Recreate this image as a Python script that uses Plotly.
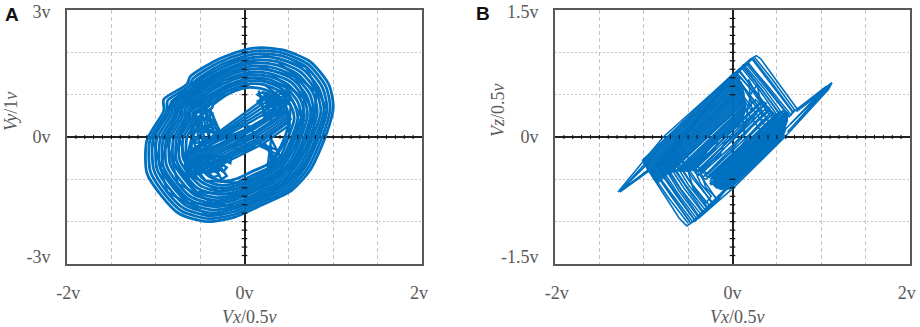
import plotly.graph_objects as go

# ---------- Panel A: Vx (x) against Vy (y) ----------
a_ring_01 = [(0.18,2.11),(0.44,2.05),(0.74,1.78),(0.95,1.24),(1.00,0.70),(0.91,0.00),(0.74,-0.78),(0.52,-1.28),(0.25,-1.55),(-0.12,-1.90),(-0.42,-2.00),(-0.73,-1.82),(-0.93,-1.40),(-1.10,-0.85),(-1.10,-0.08),(-0.91,0.62),(-0.91,0.89),(-0.65,1.24),(-0.61,1.43),(-0.31,1.82),(-0.01,2.05),(0.18,2.11)]
a_ring_02 = [(0.175,2.04),(0.425,1.985),(0.715,1.72),(0.915,1.20),(0.965,0.675),(0.875,0.00),(0.71,-0.75),(0.50,-1.235),(0.24,-1.495),(-0.115,-1.83),(-0.405,-1.93),(-0.705,-1.755),(-0.90,-1.35),(-1.06,-0.82),(-1.065,-0.075),(-0.88,0.60),(-0.865,0.865),(-0.625,1.195),(-0.58,1.38),(-0.295,1.755),(-0.01,1.975),(0.175,2.04)]
a_ring_03 = [(0.17,1.97),(0.41,1.92),(0.69,1.66),(0.88,1.16),(0.93,0.65),(0.84,0.00),(0.68,-0.72),(0.48,-1.19),(0.23,-1.44),(-0.11,-1.76),(-0.39,-1.86),(-0.68,-1.69),(-0.87,-1.30),(-1.02,-0.79),(-1.03,-0.07),(-0.85,0.58),(-0.82,0.84),(-0.60,1.15),(-0.55,1.33),(-0.28,1.69),(-0.01,1.90),(0.17,1.97)]
a_ring_04 = [(0.16,1.895),(0.39,1.85),(0.66,1.60),(0.845,1.115),(0.895,0.625),(0.805,0.00),(0.655,-0.69),(0.46,-1.145),(0.22,-1.385),(-0.11,-1.695),(-0.375,-1.79),(-0.655,-1.625),(-0.835,-1.25),(-0.985,-0.76),(-0.99,-0.065),(-0.82,0.56),(-0.80,0.805),(-0.58,1.11),(-0.535,1.28),(-0.27,1.625),(-0.01,1.83),(0.16,1.895)]
a_ring_05 = [(0.15,1.82),(0.37,1.78),(0.63,1.54),(0.81,1.07),(0.86,0.60),(0.77,0.00),(0.63,-0.66),(0.44,-1.10),(0.21,-1.33),(-0.11,-1.63),(-0.36,-1.72),(-0.63,-1.56),(-0.80,-1.20),(-0.95,-0.73),(-0.95,-0.06),(-0.79,0.54),(-0.78,0.77),(-0.56,1.07),(-0.52,1.23),(-0.26,1.56),(-0.01,1.76),(0.15,1.82)]
a_ring_06 = [(0.14,1.75),(0.355,1.705),(0.60,1.48),(0.775,1.03),(0.82,0.58),(0.74,0.005),(0.60,-0.635),(0.42,-1.05),(0.20,-1.27),(-0.11,-1.56),(-0.35,-1.645),(-0.61,-1.495),(-0.775,-1.15),(-0.915,-0.695),(-0.915,-0.055),(-0.76,0.52),(-0.755,0.74),(-0.54,1.03),(-0.505,1.185),(-0.26,1.505),(-0.015,1.695),(0.14,1.75)]
a_ring_07 = [(0.13,1.68),(0.34,1.63),(0.57,1.42),(0.74,0.99),(0.78,0.56),(0.71,0.01),(0.57,-0.61),(0.40,-1.00),(0.19,-1.21),(-0.11,-1.49),(-0.34,-1.57),(-0.59,-1.43),(-0.75,-1.10),(-0.88,-0.66),(-0.88,-0.05),(-0.73,0.50),(-0.73,0.71),(-0.52,0.99),(-0.49,1.14),(-0.26,1.45),(-0.02,1.63),(0.13,1.68)]
a_ring_08 = [(0.12,1.61),(0.32,1.56),(0.545,1.36),(0.705,0.95),(0.745,0.54),(0.675,0.01),(0.545,-0.58),(0.38,-0.955),(0.18,-1.155),(-0.105,-1.425),(-0.325,-1.50),(-0.565,-1.365),(-0.715,-1.045),(-0.84,-0.63),(-0.84,-0.045),(-0.70,0.48),(-0.70,0.685),(-0.50,0.95),(-0.47,1.095),(-0.25,1.39),(-0.02,1.565),(0.12,1.61)]
a_ring_09 = [(0.11,1.54),(0.30,1.49),(0.52,1.30),(0.67,0.91),(0.71,0.52),(0.64,0.01),(0.52,-0.55),(0.36,-0.91),(0.17,-1.10),(-0.10,-1.36),(-0.31,-1.43),(-0.54,-1.30),(-0.68,-0.99),(-0.80,-0.60),(-0.80,-0.04),(-0.67,0.46),(-0.67,0.66),(-0.48,0.91),(-0.45,1.05),(-0.24,1.33),(-0.02,1.50),(0.11,1.54)]
a_ring_10 = [(0.105,1.47),(0.285,1.425),(0.49,1.24),(0.635,0.87),(0.675,0.495),(0.61,0.015),(0.49,-0.52),(0.34,-0.865),(0.16,-1.045),(-0.095,-1.29),(-0.30,-1.355),(-0.515,-1.23),(-0.65,-0.94),(-0.765,-0.57),(-0.765,-0.035),(-0.64,0.44),(-0.64,0.63),(-0.46,0.87),(-0.43,1.00),(-0.23,1.265),(-0.02,1.425),(0.105,1.47)]
a_ring_11 = [(0.10,1.40),(0.27,1.36),(0.46,1.18),(0.60,0.83),(0.64,0.47),(0.58,0.02),(0.46,-0.49),(0.32,-0.82),(0.15,-0.99),(-0.09,-1.22),(-0.29,-1.28),(-0.49,-1.16),(-0.62,-0.89),(-0.73,-0.54),(-0.73,-0.03),(-0.61,0.42),(-0.61,0.60),(-0.44,0.83),(-0.41,0.95),(-0.22,1.20),(-0.02,1.35),(0.10,1.40)]
a_ring_12 = [(0.09,1.33),(0.25,1.295),(0.43,1.125),(0.56,0.785),(0.60,0.45),(0.54,0.025),(0.435,-0.465),(0.30,-0.775),(0.135,-0.935),(-0.09,-1.15),(-0.275,-1.21),(-0.465,-1.095),(-0.585,-0.84),(-0.69,-0.505),(-0.69,-0.025),(-0.58,0.40),(-0.58,0.57),(-0.42,0.785),(-0.395,0.90),(-0.21,1.14),(-0.025,1.28),(0.09,1.33)]
a_ring_13 = [(0.08,1.26),(0.23,1.23),(0.40,1.07),(0.52,0.74),(0.56,0.43),(0.50,0.03),(0.41,-0.44),(0.28,-0.73),(0.12,-0.88),(-0.09,-1.08),(-0.26,-1.14),(-0.44,-1.03),(-0.55,-0.79),(-0.65,-0.47),(-0.65,-0.02),(-0.55,0.38),(-0.55,0.54),(-0.40,0.74),(-0.38,0.85),(-0.20,1.08),(-0.03,1.21),(0.08,1.26)]
a_ring_14 = [(0.07,1.17),(0.21,1.13),(0.36,0.98),(0.47,0.69),(0.50,0.40),(0.46,0.03),(0.36,-0.40),(0.25,-0.66),(0.10,-0.80),(-0.08,-0.98),(-0.24,-1.04),(-0.40,-0.93),(-0.50,-0.71),(-0.59,-0.42),(-0.59,-0.02),(-0.50,0.35),(-0.50,0.49),(-0.37,0.68),(-0.35,0.77),(-0.18,1.02),(-0.03,1.14),(0.07,1.17)]
a_band = [(-0.62,-0.35),(-0.29,0.12),(0.14,0.78),(0.40,1.10),(0.46,1.00),(0.18,0.66),(-0.26,0.06),(-0.65,-0.42),(-0.66,-0.50),(-0.24,0.00),(0.24,0.56),(0.52,0.92),(0.50,0.82),(0.28,0.48),(0.10,0.26),(-0.30,-0.10),(-0.64,-0.45),(-0.66,-0.55),(-0.30,-0.22),(0.10,0.22),(0.46,0.72),(0.48,0.62),(0.14,0.14),(-0.30,-0.34),(-0.67,-0.65),(-0.66,-0.75),(-0.30,-0.46),(0.16,0.05),(0.50,0.52),(0.52,0.42),(0.19,-0.05),(-0.31,-0.58),(-0.65,-0.85),(-0.62,-0.95),(-0.31,-0.70),(0.21,-0.16),(0.52,0.30)]
a_band_2 = [(0.50,0.36),(0.20,-0.10),(-0.31,-0.64),(-0.64,-0.90),(-0.66,-0.80),(-0.30,-0.52),(0.18,0.00),(0.51,0.47),(0.49,0.57),(0.15,0.10),(-0.30,-0.40),(-0.67,-0.70),(-0.66,-0.60),(-0.30,-0.28),(0.12,0.20),(0.47,0.67),(0.47,0.77),(0.26,0.52),(0.20,0.40),(-0.28,-0.16),(-0.65,-0.48),(-0.66,-0.40),(-0.25,0.03),(0.21,0.61),(0.49,0.96),(0.43,1.05),(0.16,0.72),(-0.27,0.09),(-0.60,-0.30)]
a_hole_left = [(-0.39,0.66),(-0.27,0.10),(-0.33,0.05),(-0.45,0.70),(-0.50,0.70),(-0.40,0.00),(-0.47,-0.10),(-0.55,0.50),(-0.42,0.40),(-0.33,0.30),(-0.50,0.20),(-0.36,0.15)]
a_fill_left = [(-0.62,0.50),(-0.55,-0.30),(-0.50,-0.30),(-0.56,0.55),(-0.50,0.62),(-0.44,-0.25),(-0.38,-0.20),(-0.44,0.62),(-0.40,0.62),(-0.33,-0.10),(-0.30,0.00),(-0.36,0.55),(-0.58,0.30),(-0.30,0.20),(-0.30,0.10),(-0.60,0.15),(-0.60,0.00),(-0.30,-0.05),(-0.58,-0.15),(-0.35,0.40),(-0.60,0.45)]
a_fill_lower_left = [(-0.62,-0.50),(-0.35,-0.95),(-0.28,-0.90),(-0.55,-0.45),(-0.48,-0.42),(-0.24,-0.82),(-0.20,-0.72),(-0.42,-0.42),(-0.36,-0.42),(-0.16,-0.62),(-0.15,-0.50),(-0.30,-0.45),(-0.60,-0.70),(-0.25,-0.68),(-0.22,-0.60),(-0.58,-0.60),(-0.55,-0.85),(-0.30,-0.80)]
a_fill_right = [(0.10,-0.10),(0.36,-0.30),(0.38,-0.42),(0.16,-0.20),(0.24,-0.24),(0.36,-0.55),(0.30,-0.60),(0.30,-0.20)]
a_fill_upper_right = [(0.16,1.10),(0.24,0.40),(0.30,0.42),(0.22,1.05),(0.28,1.02),(0.36,0.50),(0.42,0.55),(0.34,0.98),(0.20,0.50),(0.46,0.62)]
a_hole_right = [(0.22,-0.12),(0.34,-0.50),(0.26,-0.72),(0.30,-0.05),(0.40,-0.45),(0.30,-0.70)]
a_hole_bottom = [(-0.30,-0.62),(-0.20,-0.92),(-0.26,-1.00),(-0.36,-0.60),(-0.28,-0.80),(-0.40,-0.80)]
a_hole_top = [(0.16,0.98),(0.24,0.92),(0.34,0.95),(0.20,1.05),(0.14,1.00),(0.30,0.86)]
a_upper_right = [(0.14,1.02),(0.36,0.75),(0.44,0.70),(0.22,1.00),(0.30,0.95),(0.45,0.80),(0.24,0.80),(0.40,0.62),(0.30,0.60),(0.45,0.90),(0.38,0.85),(0.20,0.88)]
a_centre = [(-0.18,0.08),(-0.08,0.28),(0.05,0.25),(0.12,0.05),(0.00,-0.10),(-0.12,-0.05),(-0.18,0.08),(-0.10,0.04),(0.02,-0.18),(0.12,-0.22),(-0.02,-0.34),(-0.14,-0.24),(-0.02,-0.16)]
a_bits_upper = [(0.14,0.84),(0.22,0.70),(0.32,0.78),(0.24,0.92),(0.14,0.84),(0.20,0.76)]
a_bits_lower = [(-0.42,-0.62),(-0.30,-0.70),(-0.38,-0.84),(-0.52,-0.74),(-0.42,-0.62),(-0.36,-0.72)]

a_rings = [a_ring_01,a_ring_02,a_ring_03,a_ring_04,a_ring_05,a_ring_06,a_ring_07,a_ring_08,a_ring_09,a_ring_10,a_ring_11,a_ring_12,a_ring_13,a_ring_14]
a_details = [a_ring_03[::2],a_ring_05[1::2],a_ring_07[::2],a_ring_09[1::2],a_ring_11[::2],a_ring_13[1::2],
             a_band,a_band_2,a_hole_left,a_fill_left,a_fill_lower_left,a_fill_right,a_fill_upper_right,a_hole_right,a_hole_bottom,a_hole_top,a_upper_right,a_centre,a_bits_upper,a_bits_lower]

# ---------- Panel B: Vx (x) against Vz (y) ----------
b_outer_loops = [
 (-1.29,-0.65),(-0.78,0.00),(0.00,0.73),(0.20,0.92),(0.27,0.96),(0.32,0.92),(0.73,0.33),(1.10,0.62),(1.12,0.64),(1.08,0.56),(0.59,0.00),(0.00,-0.61),(-0.36,-0.94),(-0.515,-1.05),(-0.60,-0.96),(-0.95,-0.39),(-1.27,-0.65),
 (-0.90,-0.37),(0.00,0.70),(0.22,0.92),(0.68,0.29),(1.06,0.60),(0.65,0.15),(-0.47,-1.02),(-0.90,-0.37),
 (-0.85,-0.34),(0.17,0.89),(0.63,0.26),(0.50,0.02),(-0.42,-0.99),(-0.85,-0.34),
 (-0.80,-0.29),(0.12,0.85),(0.60,0.18),(0.42,-0.08),(-0.37,-0.95),(-0.80,-0.29),
 (-0.75,-0.24),(0.07,0.80),(0.55,0.12),(0.35,-0.14),(-0.32,-0.90),(-0.75,-0.24),
 (-0.70,-0.19),(0.02,0.75),(0.50,0.05),(0.30,-0.20),(-0.27,-0.85),(-0.70,-0.19),
 (-0.65,-0.14),(-0.03,0.70),(0.42,0.06),(0.22,-0.26),(-0.22,-0.80),(-0.65,-0.14),
 (-0.60,-0.09),(-0.08,0.64),(0.37,0.00),(0.15,-0.32),(-0.17,-0.75),(-0.60,-0.09),
]
b_left_band = [
 (-1.02,-0.28),(0.00,0.74),(0.03,0.73),(-1.00,-0.30),(-0.99,-0.33),(0.05,0.71),(0.08,0.70),(-0.97,-0.35),(-0.96,-0.38),(0.08,0.66),(0.10,0.64),(-0.94,-0.40),
 (-0.92,-0.42),(0.10,0.60),(0.12,0.58),(-0.91,-0.45),(-0.89,-0.47),(0.12,0.54),(0.13,0.51),(-0.88,-0.50),(-0.86,-0.52),(0.13,0.47),(0.14,0.44),(-0.84,-0.54),
 (-0.70,-0.40),(0.14,0.40),(0.15,0.37),(-0.62,-0.40),(-0.58,-0.40),(0.15,0.33),(0.12,0.26),(-0.54,-0.40),(-0.50,-0.40),(-0.30,-0.20),(-0.26,-0.10),(0.10,0.20),
]
b_left_band_2 = [
 (-1.01,-0.29),(0.02,0.74),(0.04,0.72),(-0.99,-0.31),(-0.98,-0.34),(0.06,0.70),(0.08,0.68),(-0.96,-0.36),(-0.95,-0.39),(0.09,0.65),(0.10,0.62),(-0.93,-0.41),(-0.91,-0.43),(0.11,0.59),(0.12,0.56),(-0.90,-0.46),(-0.88,-0.48),(0.12,0.52),(0.13,0.49),(-0.87,-0.51),(-0.85,-0.53),(0.13,0.45),(0.14,0.42),(-0.70,-0.42),(-0.64,-0.40),(0.14,0.38),(0.15,0.35),(-0.60,-0.40),(-0.56,-0.40),(0.14,0.30),(0.12,0.24),(-0.52,-0.40),(-0.48,-0.40),(0.10,0.18),(0.14,0.18),(-0.44,-0.40),(-0.40,-0.40),(0.20,0.20),
]
b_middle = [
 (-0.46,-0.40),(-0.20,-0.15),(-0.16,-0.02),(0.12,0.16),(0.30,0.34),(0.20,0.16),(-0.10,-0.08),(-0.14,-0.22),(-0.42,-0.42),(-0.38,-0.45),(-0.06,-0.10),(0.04,0.02),(0.36,0.32),
 (0.40,0.30),(0.10,0.00),(-0.02,-0.18),(-0.34,-0.48),(-0.30,-0.50),(0.02,-0.20),(0.16,-0.02),(0.46,0.28),(0.05,0.75),(0.10,0.40),(0.13,0.05),(0.20,0.50),(0.28,0.62),(0.33,0.30),
 (0.24,0.20),(-0.36,-0.40),(-0.30,-0.44),(0.10,-0.02),(0.30,0.22),(0.34,0.20),(0.14,-0.06),(-0.27,-0.46),
]
b_middle_2 = [
 (-0.42,-0.36),(-0.10,-0.02),(0.06,0.14),(0.34,0.42),(0.38,0.40),(0.14,0.14),(-0.06,-0.06),(-0.38,-0.40),(-0.34,-0.42),(-0.02,-0.12),(0.18,0.10),(0.40,0.32),(0.44,0.30),(0.22,0.06),(0.02,-0.14),(-0.30,-0.46),(-0.26,-0.48),(0.06,-0.16),(0.26,0.04),(0.48,0.26),(0.50,0.22),(0.30,0.00),(0.10,-0.18),(-0.22,-0.50),
 (-0.20,-0.46),(0.12,-0.14),(0.32,0.06),(0.50,0.24),(0.46,0.28),(0.24,0.08),(0.04,-0.12),(-0.28,-0.44),(-0.32,-0.40),(0.00,-0.10),(0.20,0.12),(0.42,0.34),(0.36,0.38),(0.16,0.18),(-0.04,-0.04),(-0.36,-0.38),(-0.40,-0.34),(-0.08,0.00),(0.08,0.18),(0.30,0.40),(0.26,0.44),(0.04,0.20),(-0.12,0.02),(-0.44,-0.32),
]
b_top_inner = [(0.02,0.74),(0.12,0.45),(0.22,0.30),(0.18,0.68),(0.30,0.45),(0.40,0.30),(0.34,0.25),(0.22,0.42),(0.10,0.62)]
b_bottom_inner = [(-0.50,-0.40),(-0.44,-0.62),(-0.30,-0.78),(-0.24,-0.70),(-0.36,-0.55),(-0.42,-0.40),(-0.36,-0.40),(-0.30,-0.60),(-0.18,-0.72)]
b_right_band = [
 (-0.25,-0.50),(0.55,0.30),(0.60,0.30),(-0.25,-0.55),(-0.22,-0.56),(0.62,0.28),(0.63,0.25),(-0.20,-0.58),(-0.18,-0.60),(0.62,0.20),(0.60,0.14),(-0.15,-0.61),(-0.12,-0.62),(0.60,0.10),(0.58,0.04),(-0.08,-0.62),(-0.03,-0.61),(0.59,0.01),
 (0.58,0.02),(-0.06,-0.62),(-0.10,-0.62),(0.59,0.07),(0.60,0.12),(-0.13,-0.61),(-0.16,-0.60),(0.61,0.17),(0.62,0.22),(-0.19,-0.59),(-0.21,-0.57),(0.63,0.27),(0.61,0.29),(-0.24,-0.56),(-0.25,-0.52),(0.58,0.31),(0.52,0.29),(-0.24,-0.47),
]
b_fan_top = [(0.25,0.94),(0.45,0.68),(0.70,0.32),(0.66,0.26),(0.40,0.60),(0.18,0.86),(0.14,0.84),(0.35,0.58),(0.60,0.22),(0.54,0.20),(0.30,0.56),(0.10,0.82),(0.04,0.76),(0.22,0.55),(0.46,0.20)]
b_fan_top_2 = [(0.23,0.93),(0.43,0.66),(0.68,0.30),(0.64,0.24),(0.38,0.58),(0.16,0.86),(0.12,0.82),(0.33,0.56),(0.57,0.21),(0.50,0.19),(0.27,0.53),(0.07,0.78),(0.00,0.74),(0.18,0.52),(0.40,0.20)]
b_fan_bottom = [(-0.25,-0.82),(-0.47,-0.54),(-0.67,-0.20),(-0.72,-0.26),(-0.52,-0.58),(-0.30,-0.87),(-0.35,-0.92),(-0.58,-0.62),(-0.77,-0.30),(-0.82,-0.34),(-0.62,-0.66),(-0.40,-0.97),(-0.45,-1.00),(-0.66,-0.70),(-0.88,-0.40),(-0.93,-0.40),(-0.72,-0.72),(-0.50,-1.02)]
b_fan_bottom_2 = [(-0.22,-0.78),(-0.44,-0.50),(-0.65,-0.17),(-0.70,-0.22),(-0.50,-0.56),(-0.28,-0.85),(-0.33,-0.90),(-0.55,-0.60),(-0.75,-0.28),(-0.79,-0.32),(-0.60,-0.64),(-0.38,-0.95),(-0.43,-0.98),(-0.64,-0.68),(-0.85,-0.36),(-0.90,-0.38),(-0.69,-0.70),(-0.48,-1.00)]
b_tail_up = [(0.65,0.15),(1.12,0.64),(0.72,0.30),(1.10,0.60),(0.62,0.06),(1.08,0.60)]
b_tail_down = [(-0.95,-0.39),(-1.27,-0.64),(-0.85,-0.16),(-1.25,-0.62),(-0.92,-0.28)]

b_segments = [b_outer_loops,b_left_band,b_left_band_2,b_middle,b_middle_2,b_top_inner,b_bottom_inner,b_right_band,b_fan_top,b_fan_top_2,b_fan_bottom,b_fan_bottom_2,b_tail_up,b_tail_down]

# ---------- Axes and labels ----------
a_x_label_pos = [-1.985, 0, 1.966]
b_x_label_pos = [-1.98, 0, 1.963]
x_tick_text = ["-2v", "0v", "2v"]
x_grid = [-1.5, -1, -0.5, 0.5, 1, 1.5]
a_y_label_pos = [-2.83, 0, 2.95]
a_y_tick_text = ["-3v", "0v", "3v"]
b_y_label_pos = [-1.415, 0, 1.475]
b_y_tick_text = ["-1.5v", "0v", "1.5v"]
x_minor = [-1.9,-1.8,-1.7,-1.6,-1.5,-1.4,-1.3,-1.2,-1.1,-1.0,-0.9,-0.8,-0.7,-0.6,-0.5,-0.4,-0.3,-0.2,-0.1,0.1,0.2,0.3,0.4,0.5,0.6,0.7,0.8,0.9,1.0,1.1,1.2,1.3,1.4,1.5,1.6,1.7,1.8,1.9]
a_y_minor = [-2.8,-2.6,-2.4,-2.2,-2.0,-1.8,-1.6,-1.4,-1.2,-1.0,1.0,1.2,1.4,1.6,1.8,2.0,2.2,2.4,2.6,2.8]
b_y_minor = [-1.4,-1.3,-1.2,-1.1,-1.0,-0.9,-0.8,-0.7,-0.6,-0.5,0.5,0.6,0.7,0.8,0.9,1.0,1.1,1.2,1.3,1.4]

BLUE = "#0070C0"
FRAME = "#595959"
TEXT = "#595959"
GRID = "#c4c4c4"
W, H = 920, 327

def flat(segments):
    xs, ys = [], []
    for seg in segments:
        for p in seg:
            xs.append(p[0]); ys.append(p[1])
        xs.append(None); ys.append(None)
    return xs, ys

fig = go.Figure()
rx, ry = flat(a_rings)
dx, dy = flat(a_details)
bx, by = flat(b_segments)
fig.add_trace(go.Scatter(x=rx, y=ry, mode="lines", xaxis="x", yaxis="y", line=dict(color=BLUE, width=2.8, shape="spline", smoothing=0.7), showlegend=False, hoverinfo="skip"))
fig.add_trace(go.Scatter(x=dx, y=dy, mode="lines", xaxis="x", yaxis="y", line=dict(color=BLUE, width=2.4), showlegend=False, hoverinfo="skip"))
fig.add_trace(go.Scatter(x=bx, y=by, mode="lines", xaxis="x2", yaxis="y2", line=dict(color=BLUE, width=1.6), showlegend=False, hoverinfo="skip"))

for xa, ya, ym in (("x", "y", a_y_minor), ("x2", "y2", b_y_minor)):
    fig.add_trace(go.Scatter(x=x_minor, y=[0]*len(x_minor), mode="markers", xaxis=xa, yaxis=ya, showlegend=False, hoverinfo="skip",
                             marker=dict(symbol="line-ns", size=3, line=dict(color="#111111", width=1))))
    fig.add_trace(go.Scatter(x=[0]*len(ym), y=ym, mode="markers", xaxis=xa, yaxis=ya, showlegend=False, hoverinfo="skip",
                             marker=dict(symbol="line-ew", size=4, line=dict(color="#111111", width=1.2))))

def xaxis(dom, vals, anchor):
    return dict(domain=dom, anchor=anchor, automargin=False, range=[-2, 2], tickmode="array", tickvals=vals, ticktext=x_tick_text,
                ticks="outside", ticklen=11, tickcolor="rgba(0,0,0,0)", showline=True, mirror=True, linecolor=FRAME, linewidth=2,
                showgrid=False,
                minor=dict(tickmode="array", tickvals=x_grid, showgrid=True, gridcolor=GRID, griddash="4px,3px", gridwidth=1, ticks=""),
                zeroline=True, zerolinecolor="#222222", zerolinewidth=1.5,
                tickfont=dict(family="Liberation Serif", size=18, color=TEXT))

def yaxis(rng, vals, text, grid, anchor):
    return dict(domain=[1-264/H, 1-10/H], anchor=anchor, automargin=False, range=rng, tickmode="array", tickvals=vals, ticktext=text,
                ticks="outside", ticklen=11, tickcolor="rgba(0,0,0,0)", showline=True, mirror=True, linecolor=FRAME, linewidth=2,
                showgrid=False,
                minor=dict(tickmode="array", tickvals=grid, showgrid=True, gridcolor=GRID, griddash="2px,2px", gridwidth=1, ticks=""),
                zeroline=True, zerolinecolor="#222222", zerolinewidth=1.5,
                tickfont=dict(family="Liberation Serif", size=18, color=TEXT))

def note(text, x, y, size=18, angle=0, family="Liberation Serif", color=TEXT):
    return dict(text=text, x=x/W, y=1-y/H, xref="paper", yref="paper", showarrow=False, textangle=angle,
                xanchor="center", yanchor="middle", font=dict(family=family, size=size, color=color))

fig.update_layout(
    width=W, height=H, margin=dict(l=0, r=0, t=0, b=0), paper_bgcolor="white", plot_bgcolor="white", showlegend=False,
    xaxis=xaxis([67/W, 422/W], a_x_label_pos, "y"),
    yaxis=yaxis([-3, 3], a_y_label_pos, a_y_tick_text, [-2, -1, 1, 2], "x"),
    xaxis2=xaxis([555/W, 910/W], b_x_label_pos, "y2"),
    yaxis2=yaxis([-1.5, 1.5], b_y_label_pos, b_y_tick_text, [-1, -0.5, 0.5, 1], "x2"),
    annotations=[
        note("<i>Vx</i>/0.5<i>v</i>", 249, 317),
        note("<i>Vx</i>/0.5<i>v</i>", 737, 317),
        note("<i>Vy</i>/1<i>v</i>", 11, 112, angle=-90),
        note("<i>Vz</i>/0.5<i>v</i>", 498, 110, angle=-90),
        note("<b>A</b>", 12, 15, size=19, family="Liberation Sans", color="#111111"),
        note("<b>B</b>", 483, 13, size=19, family="Liberation Sans", color="#111111"),
    ],
)
fig.write_html("out.html", config={"displayModeBar": False},
               post_script="document.body.style.margin='0';document.documentElement.style.overflow='hidden';")
